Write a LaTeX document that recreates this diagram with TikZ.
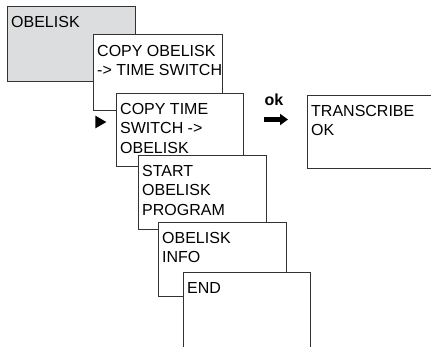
\documentclass[tikz,border=0pt]{standalone}
\usepackage{fontspec}
\setmainfont{Liberation Sans}
\usetikzlibrary{shapes.geometric,arrows.meta,positioning}
\definecolor{lcdgray}{RGB}{220,221,223}

\begin{document}
\begin{tikzpicture}[
    x=1pt, y=-1pt,
    screen/.style={rectangle, draw=black!80, fill=white, line width=0.8pt, anchor=north west, inner sep=0pt},
    caption/.style={anchor=north west, align=left, inner sep=0pt, font=\fontsize{16}{19.5}\selectfont},
    bigarrow/.style={-{Triangle[length=8pt,width=11pt]}, line width=4.5pt}
]
\useasboundingbox (0,0) rectangle (431,346);

% Menu screens
\node[screen, fill=lcdgray, minimum width=128pt, minimum height=75pt] (obelisk) at (7,6) {};
\node[caption] (obeliskT) at ([shift={(4,10)}]obelisk.north west) {OBELISK};

\node[screen, minimum width=129pt, minimum height=76pt] (copyout) at (93,34) {};
\node[caption] (copyoutT) at ([shift={(4,11)}]copyout.north west) {COPY OBELISK\\-> TIME SWITCH};

\node[screen, minimum width=127pt, minimum height=73pt] (copyin) at (116,93) {};
\node[caption] (copyinT) at ([shift={(4,10)}]copyin.north west) {COPY TIME\\SWITCH ->\\OBELISK};

\node[screen, minimum width=128pt, minimum height=74pt] (start) at (138,155) {};
\node[caption] (startT) at ([shift={(4,10)}]start.north west) {START\\OBELISK\\PROGRAM};

\node[screen, minimum width=128pt, minimum height=74pt] (info) at (158,222) {};
\node[caption] (infoT) at ([shift={(4,10)}]info.north west) {OBELISK\\INFO};

\node[screen, minimum width=127pt, minimum height=90pt] (end) at (183,272) {};
\node[caption] (endT) at ([shift={(4,10)}]end.north west) {END};

% Result screen
\node[screen, minimum width=134pt, minimum height=73pt] (transcribe) at (307,95) {};
\node[caption] (transcribeT) at ([shift={(4,10)}]transcribe.north west) {TRANSCRIBE\\OK};

% Pointer and ok key
\node[isosceles triangle, fill=black, inner sep=0pt, minimum height=11pt, minimum width=11pt, isosceles triangle apex angle=60] (pointer) at (99,122) {};
\node[anchor=base, inner sep=0pt, font=\fontsize{16}{16}\bfseries\selectfont] (ok) at (274,105) {ok};
\coordinate (okfrom) at (264,119.5);
\coordinate (okto) at (288,119.5);
\draw[bigarrow] (okfrom) -- (okto);

\end{tikzpicture}
\end{document}
